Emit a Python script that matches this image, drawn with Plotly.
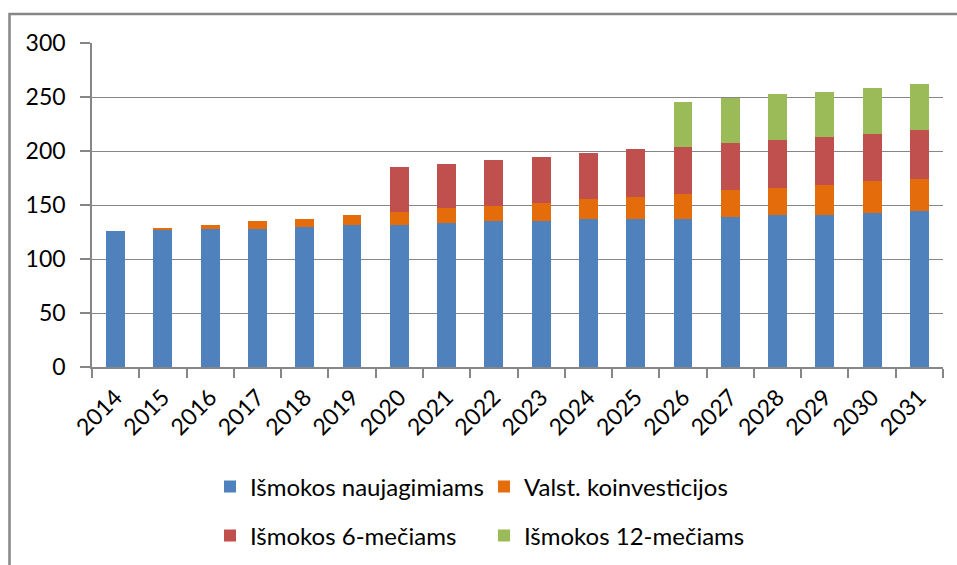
import plotly.graph_objects as go

years = [str(y) for y in range(2014, 2032)]
naujagimiams = [126.2, 127.5, 128.1, 128.1, 129.3, 131.2, 131.8, 133.0, 134.9, 135.5, 136.7, 136.7, 137.3, 139.2, 140.4, 141.0, 142.9, 144.1]
koinvesticijos = [0, 0.6, 3.7, 7.4, 8.0, 9.8, 12.0, 14.5, 14.5, 16.7, 19.2, 21.0, 23.2, 25.0, 25.6, 27.8, 29.6, 30.3]
mecio6 = [0, 0, 0, 0, 0, 0, 41.7, 40.8, 42.6, 42.6, 42.6, 44.5, 43.5, 43.5, 44.5, 44.5, 43.5, 45.4]
mecio12 = [0, 0, 0, 0, 0, 0, 0, 0, 0, 0, 0, 0, 41.7, 41.7, 42.6, 41.6, 42.6, 42.5]
yticks = [0, 50, 100, 150, 200, 250, 300]

FONT = "Lato"
FS = 23
GRAY = "#868686"

fig = go.Figure()
series = [
    ("Išmokos naujagimiams", naujagimiams, "#4F81BD", "legend"),
    ("Valst. koinvesticijos", koinvesticijos, "#E46C0A", "legend"),
    ("Išmokos 6-mečiams", mecio6, "#C0504D", "legend2"),
    ("Išmokos 12-mečiams", mecio12, "#9BBB59", "legend2"),
]
for name, vals, col, leg in series:
    fig.add_trace(go.Bar(x=years, y=vals, name=name, marker=dict(color=col, line=dict(width=0)),
                         legend=leg))

W, H = 957, 565
L, R, T, B = 92, 14, 43, 198
pw, ph = W - L - R, H - T - B

def px(x):
    return (x - L) / pw

def py(y):
    return (H - B - y) / ph

legend_common = dict(orientation="h", xanchor="left", yanchor="middle", traceorder="normal",
                     entrywidth=229, entrywidthmode="pixels",
                     font=dict(family=FONT, size=24, color="#000000"),
                     bgcolor="rgba(0,0,0,0)", borderwidth=0, itemclick=False)

fig.update_layout(
    width=W, height=H,
    margin=dict(l=L, r=R, t=T, b=B, autoexpand=False),
    paper_bgcolor="white", plot_bgcolor="white",
    barmode="stack", bargap=0.6,
    font=dict(family=FONT, size=FS, color="#000000"),
    legend=dict(x=px(210), y=py(487), **legend_common),
    legend2=dict(x=px(210), y=py(536), **legend_common),
    xaxis=dict(type="category", showline=True, linecolor=GRAY, linewidth=1.5, automargin=False,
               ticks="outside", tickson="boundaries", ticklen=9, tickcolor=GRAY, tickwidth=1.5,
               tickangle=-45, showgrid=False, ticklabelstandoff=6,
               tickfont=dict(family=FONT, size=FS, color="#000000")),
    yaxis=dict(range=[0, 300], tickvals=yticks, showline=True, linecolor=GRAY, linewidth=1.5,
               automargin=False,
               ticks="outside", ticklen=10, tickcolor=GRAY, tickwidth=1.5,
               showgrid=True, gridcolor=GRAY, gridwidth=1.2, zeroline=False,
               ticklabelstandoff=10, tickfont=dict(family=FONT, size=FS, color="#000000")),
    shapes=[dict(type="rect", xref="paper", yref="paper",
                 x0=px(9.5), x1=px(1000), y0=py(620), y1=py(14),
                 line=dict(color=GRAY, width=2.5), fillcolor="rgba(0,0,0,0)", layer="above")],
)

fig.write_html("out.html", config={"displayModeBar": False},
               post_script="document.body.style.margin='0';document.body.style.overflow='hidden';")
